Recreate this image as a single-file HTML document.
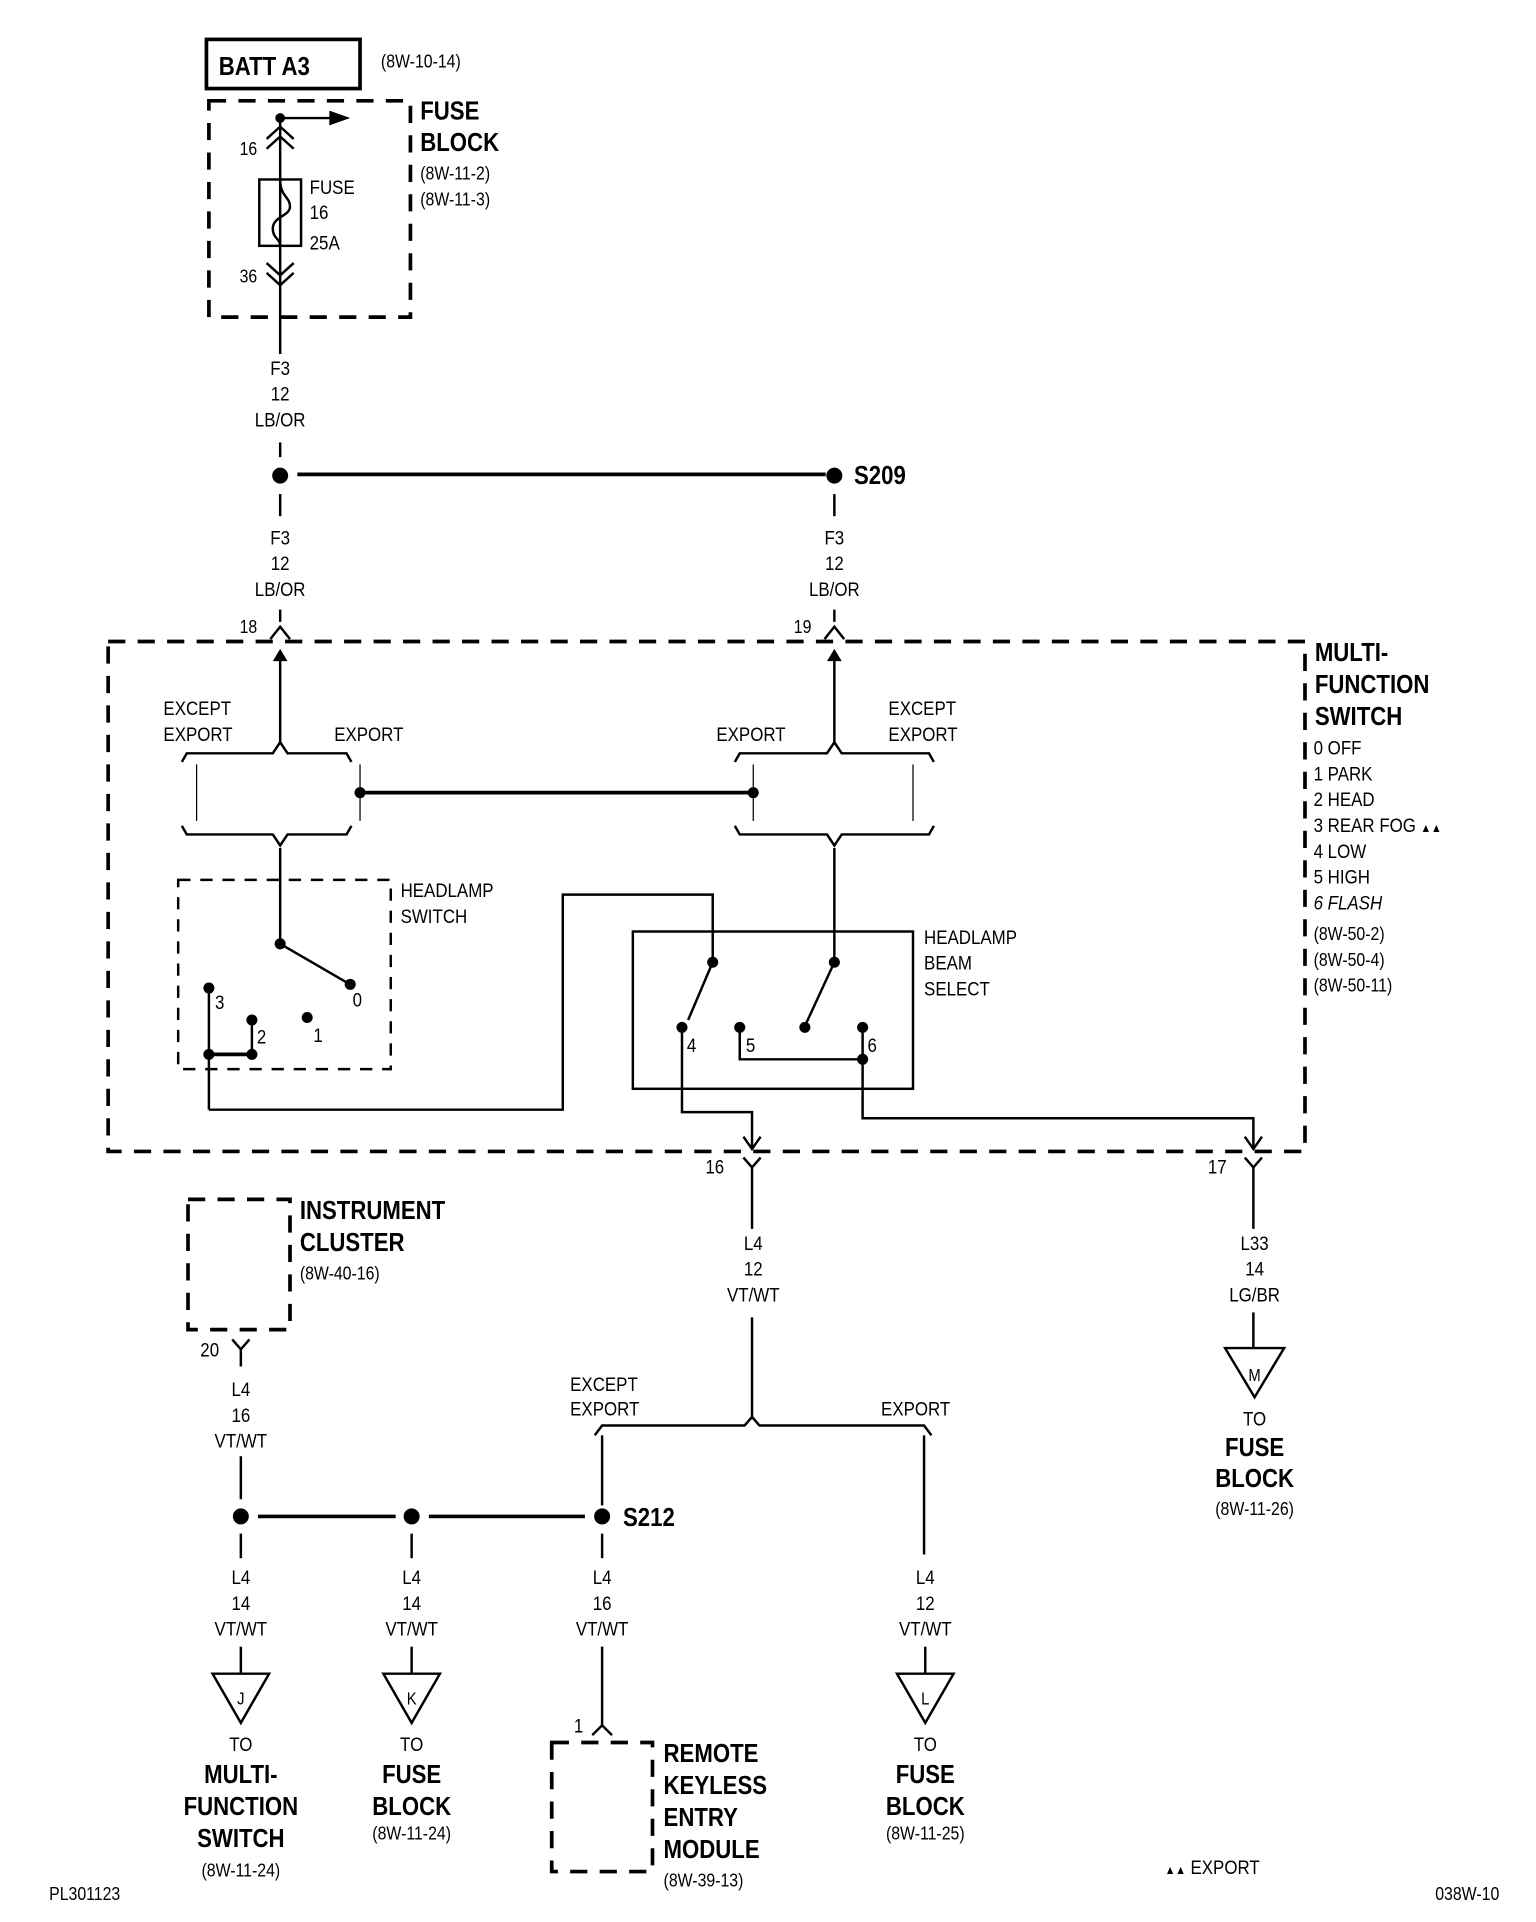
<!DOCTYPE html>
<html><head><meta charset="utf-8"><style>
html,body{margin:0;padding:0;background:#fff;}
svg{display:block;}
text{font-family:"Liberation Sans Narrow","Liberation Sans",sans-serif;fill:#000;transform-box:fill-box;transform-origin:left center;transform:scaleX(0.86);}
.b{font-weight:bold;font-size:21px;}
.r{font-size:15px;}
.s{font-size:16px;}
.m text,text.m{text-anchor:middle;transform-origin:center center;}
</style></head><body>
<svg width="1536" height="1922" viewBox="0 0 1250 1564" xmlns="http://www.w3.org/2000/svg">
<g fill="none" stroke="#000" stroke-width="2">
<rect x="168" y="32" width="125" height="40" stroke-width="3"/>
<rect x="170" y="82" width="164" height="176" stroke-width="3" stroke-dasharray="14,10"/>
<line x1="228" y1="96" x2="228" y2="288"/>
<line x1="228" y1="360" x2="228" y2="372"/>
<line x1="228" y1="96" x2="272" y2="96"/>
<path d="M217 113 L228 103 L239 113 M217 121 L228 111 L239 121"/>
<rect x="211" y="146" width="34" height="54"/>
<path d="M228 146 C228 160 236 160 236 168 C236 176 222 176 222 186 C222 194 228 194 228 200"/>
<path d="M217 214 L228 224 L239 214 M217 222 L228 232 L239 222"/>
<line x1="242" y1="386" x2="672" y2="386" stroke-width="3"/>
<line x1="228" y1="402" x2="228" y2="420"/>
<line x1="679" y1="402" x2="679" y2="420"/>
<line x1="228" y1="496" x2="228" y2="506"/>
<line x1="679" y1="496" x2="679" y2="506"/>
<path d="M220 520 L228 510 L236 520 M671 520 L679 510 L687 520"/>
<rect x="88" y="522" width="974" height="415" stroke-width="3" stroke-dasharray="14,10"/>
<line x1="228" y1="530" x2="228" y2="605"/>
<line x1="679" y1="530" x2="679" y2="605"/>
<path d="M148 620 L152 613 L222 613 L228 604 L234 613 L282 613 L286 620"/>
<path d="M148 672 L152 679 L222 679 L228 688 L234 679 L282 679 L286 672"/>
<path d="M598 620 L602 613 L673 613 L679 604 L685 613 L756 613 L760 620"/>
<path d="M598 672 L602 679 L673 679 L679 688 L685 679 L756 679 L760 672"/>
<line x1="160" y1="622" x2="160" y2="668" stroke-width="1"/>
<line x1="293" y1="622" x2="293" y2="668" stroke-width="1"/>
<line x1="613" y1="622" x2="613" y2="668" stroke-width="1"/>
<line x1="743" y1="622" x2="743" y2="668" stroke-width="1"/>
<line x1="293" y1="645" x2="613" y2="645" stroke-width="3"/>
<rect x="145" y="716" width="173" height="154" stroke-dasharray="10,8"/>
<line x1="228" y1="690" x2="228" y2="768"/>
<line x1="228" y1="768" x2="283" y2="800"/>
<line x1="170" y1="804" x2="170" y2="903"/>
<line x1="170" y1="858" x2="205" y2="858" stroke-width="3"/>
<line x1="205" y1="830" x2="205" y2="858"/>
<path d="M170 903 L458 903 L458 728 L580 728 L580 783"/>
<rect x="515" y="758" width="228" height="128"/>
<line x1="679" y1="690" x2="679" y2="783"/>
<line x1="679" y1="783" x2="655" y2="835"/>
<line x1="580" y1="783" x2="560" y2="830"/>
<path d="M602 836 L602 862 L702 862"/>
<path d="M702 836 L702 910 L1020 910 L1020 935"/>
<path d="M555 836 L555 905 L612 905 L612 935"/>
<path d="M605 925 L612 935 L619 925 M1013 925 L1020 935 L1027 925"/>
<path d="M605 942 L612 950 L619 942 M1013 942 L1020 950 L1027 942"/>
<line x1="612" y1="950" x2="612" y2="1000"/>
<line x1="1020" y1="950" x2="1020" y2="1000"/>
<line x1="612" y1="1072" x2="612" y2="1155"/>
<path d="M484 1168 L490 1160 L606 1160 L612 1153 L618 1160 L752 1160 L758 1168"/>
<line x1="490" y1="1168" x2="490" y2="1225"/>
<line x1="752" y1="1168" x2="752" y2="1265"/>
<line x1="1020" y1="1068" x2="1020" y2="1097"/>
<path d="M997 1097 L1045 1097 L1021 1137 Z"/>
<rect x="153" y="976" width="83" height="106" stroke-width="3" stroke-dasharray="14,10"/>
<path d="M189 1090 L196 1098 L203 1090 M196 1098 L196 1112"/>
<line x1="196" y1="1185" x2="196" y2="1220"/>
<line x1="210" y1="1234" x2="322" y2="1234" stroke-width="3"/>
<line x1="349" y1="1234" x2="476" y2="1234" stroke-width="3"/>
<line x1="196" y1="1248" x2="196" y2="1268"/>
<line x1="335" y1="1248" x2="335" y2="1268"/>
<line x1="490" y1="1248" x2="490" y2="1268"/>
<line x1="196" y1="1340" x2="196" y2="1362"/>
<line x1="335" y1="1340" x2="335" y2="1362"/>
<line x1="753" y1="1340" x2="753" y2="1362"/>
<path d="M173 1362 L219 1362 L196 1402 Z"/>
<path d="M312 1362 L358 1362 L335 1402 Z"/>
<path d="M730 1362 L776 1362 L753 1402 Z"/>
<line x1="490" y1="1340" x2="490" y2="1405"/>
<path d="M482 1412 L490 1404 L498 1412"/>
<rect x="449" y="1418" width="82" height="105" stroke-width="3" stroke-dasharray="14,10"/>
</g>
<g fill="#000">
<circle cx="228" cy="96" r="4"/>
<path d="M268 90 L285 96 L268 102 Z"/>
<circle cx="228" cy="387" r="6.5"/>
<circle cx="679" cy="387" r="6.5"/>
<path d="M222 538 L228 528 L234 538 Z"/>
<path d="M673 538 L679 528 L685 538 Z"/>
<circle cx="293" cy="645" r="4.5"/><circle cx="613" cy="645" r="4.5"/>
<circle cx="228" cy="768" r="4.5"/><circle cx="285" cy="801" r="4.5"/>
<circle cx="170" cy="804" r="4.5"/><circle cx="205" cy="830" r="4.5"/><circle cx="250" cy="828" r="4.5"/>
<circle cx="170" cy="858" r="4.5"/><circle cx="205" cy="858" r="4.5"/>
<circle cx="580" cy="783" r="4.5"/><circle cx="679" cy="783" r="4.5"/>
<circle cx="655" cy="836" r="4.5"/><circle cx="555" cy="836" r="4.5"/>
<circle cx="602" cy="836" r="4.5"/><circle cx="702" cy="836" r="4.5"/><circle cx="702" cy="862" r="4.5"/>
<circle cx="196" cy="1234" r="6.5"/><circle cx="335" cy="1234" r="6.5"/><circle cx="490" cy="1234" r="6.5"/>
</g>
<text x="178" y="61" class="b">BATT A3</text>
<text x="310" y="55" class="r">(8W-10-14)</text>
<text x="342" y="97" class="b">FUSE</text>
<text x="342" y="123" class="b">BLOCK</text>
<text x="342" y="146" class="r">(8W-11-2)</text>
<text x="342" y="167" class="r">(8W-11-3)</text>
<text x="195" y="126" class="r">16</text>
<text x="195" y="230" class="r">36</text>
<text x="252" y="158" class="s">FUSE</text>
<text x="252" y="178" class="s">16</text>
<text x="252" y="203" class="s">25A</text>
<g class="s m">
<text x="228" y="305">F3</text><text x="228" y="326">12</text><text x="228" y="347">LB/OR</text>
<text x="228" y="443">F3</text><text x="228" y="464">12</text><text x="228" y="485">LB/OR</text>
<text x="679" y="443">F3</text><text x="679" y="464">12</text><text x="679" y="485">LB/OR</text>
</g>
<text x="695" y="394" class="b">S209</text>
<text x="195" y="515" class="r">18</text>
<text x="646" y="515" class="r">19</text>
<text x="133" y="582" class="s">EXCEPT</text><text x="133" y="603" class="s">EXPORT</text>
<text x="272" y="603" class="s">EXPORT</text>
<text x="583" y="603" class="s">EXPORT</text>
<text x="723" y="582" class="s">EXCEPT</text><text x="723" y="603" class="s">EXPORT</text>
<text x="1070" y="538" class="b">MULTI-</text>
<text x="1070" y="564" class="b">FUNCTION</text>
<text x="1070" y="590" class="b">SWITCH</text>
<g class="s">
<text x="1069" y="614">0 OFF</text><text x="1069" y="635">1 PARK</text><text x="1069" y="656">2 HEAD</text>
<text x="1069" y="677">3 REAR FOG <tspan font-size="10">▲▲</tspan></text><text x="1069" y="698">4 LOW</text>
<text x="1069" y="719">5 HIGH</text><text x="1069" y="740" font-style="italic">6 FLASH</text>
</g>
<g class="r">
<text x="1069" y="765">(8W-50-2)</text><text x="1069" y="786">(8W-50-4)</text><text x="1069" y="807">(8W-50-11)</text>
</g>
<text x="326" y="730" class="s">HEADLAMP</text><text x="326" y="751" class="s">SWITCH</text>
<text x="752" y="768" class="s">HEADLAMP</text><text x="752" y="789" class="s">BEAM</text><text x="752" y="810" class="s">SELECT</text>
<g class="s">
<text x="287" y="819">0</text><text x="175" y="821">3</text><text x="209" y="849">2</text><text x="255" y="848">1</text>
<text x="559" y="856">4</text><text x="607" y="856">5</text><text x="706" y="856">6</text>
<text x="574" y="955">16</text><text x="983" y="955">17</text>
<text x="163" y="1104">20</text><text x="467" y="1410">1</text>
</g>
<g class="s m">
<text x="613" y="1017">L4</text><text x="613" y="1038">12</text><text x="613" y="1059">VT/WT</text>
<text x="1021" y="1017">L33</text><text x="1021" y="1038">14</text><text x="1021" y="1059">LG/BR</text>
<text x="1021" y="1124" font-size="14">M</text>
<text x="1021" y="1160">TO</text>
<text x="196" y="1136">L4</text><text x="196" y="1157">16</text><text x="196" y="1178">VT/WT</text>
<text x="196" y="1289">L4</text><text x="196" y="1310">14</text><text x="196" y="1331">VT/WT</text>
<text x="335" y="1289">L4</text><text x="335" y="1310">14</text><text x="335" y="1331">VT/WT</text>
<text x="490" y="1289">L4</text><text x="490" y="1310">16</text><text x="490" y="1331">VT/WT</text>
<text x="753" y="1289">L4</text><text x="753" y="1310">12</text><text x="753" y="1331">VT/WT</text>
<text x="196" y="1387" font-size="14">J</text><text x="335" y="1387" font-size="14">K</text><text x="753" y="1387" font-size="14">L</text>
<text x="196" y="1425">TO</text><text x="335" y="1425">TO</text><text x="753" y="1425">TO</text>
</g>
<text x="464" y="1132" class="s">EXCEPT</text><text x="464" y="1152" class="s">EXPORT</text>
<text x="717" y="1152" class="s">EXPORT</text>
<g class="b m">
<text x="1021" y="1185">FUSE</text><text x="1021" y="1210">BLOCK</text>
<text x="196" y="1451">MULTI-</text><text x="196" y="1477">FUNCTION</text><text x="196" y="1503">SWITCH</text>
<text x="335" y="1451">FUSE</text><text x="335" y="1477">BLOCK</text>
<text x="753" y="1451">FUSE</text><text x="753" y="1477">BLOCK</text>
</g>
<g class="r m">
<text x="1021" y="1233">(8W-11-26)</text>
<text x="196" y="1527">(8W-11-24)</text>
<text x="335" y="1497">(8W-11-24)</text>
<text x="753" y="1497">(8W-11-25)</text>
</g>
<text x="244" y="992" class="b">INSTRUMENT</text>
<text x="244" y="1018" class="b">CLUSTER</text>
<text x="244" y="1041" class="r">(8W-40-16)</text>
<text x="507" y="1242" class="b">S212</text>
<text x="540" y="1434" class="b">REMOTE</text>
<text x="540" y="1460" class="b">KEYLESS</text>
<text x="540" y="1486" class="b">ENTRY</text>
<text x="540" y="1512" class="b">MODULE</text>
<text x="540" y="1535" class="r">(8W-39-13)</text>
<text x="40" y="1546" class="r">PL301123</text>
<text x="948" y="1525" class="s"><tspan font-size="10">▲▲</tspan> EXPORT</text>
<text x="1168" y="1546" class="r">038W-10</text>
</svg>
</body></html>
